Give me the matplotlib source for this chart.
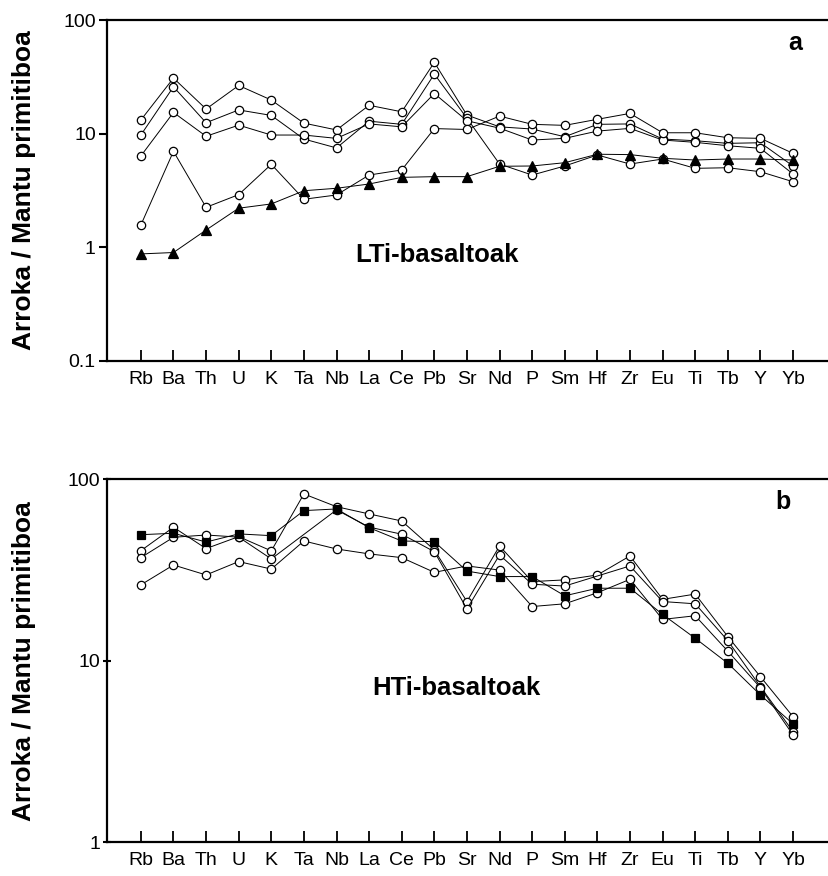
import matplotlib
matplotlib.use('Agg')
import matplotlib.pyplot as plt
from matplotlib.ticker import NullLocator
import numpy as np

plt.rcParams['font.family'] = ['Liberation Sans', 'DejaVu Sans']

# Elementuak (primitive mantle normalised)
elementuak = ['Rb', 'Ba', 'Th', 'U', 'K', 'Ta', 'Nb', 'La', 'Ce', 'Pb', 'Sr',
              'Nd', 'P', 'Sm', 'Hf', 'Zr', 'Eu', 'Ti', 'Tb', 'Y', 'Yb']

# (a) LTi-basaltoak
lti_1 = [13.2, 30.9, 16.5, 26.6, 19.8, 12.4, 10.8, 17.8, 15.6, 42.5, 14.6,
         11.5, 11.0, 9.41, 12.1, 12.2, 8.98, 8.68, 8.23, 8.33, 5.20]
lti_2 = [9.74, 25.9, 12.5, 16.2, 14.5, 8.98, 7.5, 12.9, 12.1, 33.5, 13.7,
         5.41, 4.33, 5.2, 6.5, 5.41, 5.99, 4.96, 5.02, 4.63, 3.78]
lti_3 = [6.37, 15.4, 9.5, 11.9, 9.74, 9.74, 9.1, 12.2, 11.5, 22.6, 13.0,
         11.2, 8.8, 9.11, 10.55, 11.15, 8.80, 8.40, 7.84, 7.44, 4.42]
lti_4 = [1.57, 7.0, 2.25, 2.91, 5.38, 2.65, 2.89, 4.33, 4.8, 11.1, 10.9,
         14.3, 12.1, 11.85, 13.4, 15.1, 10.2, 10.2, 9.22, 9.11, 6.72]
lti_tri = [0.875, 0.90, 1.42, 2.21, 2.41, 3.15, 3.31, 3.61, 4.13, 4.19, 4.19,
           5.17, 5.2, 5.56, 6.6, 6.55, 6.08, 5.87, 5.99, 5.99, 5.87]

# (b) HTi-basaltoak
hti_1 = [40.4, 54.4, 41.5, 48.3, 40.3, 83.0, 70.6, 64.4, 58.9, 40.8, 21.2,
         42.9, 27.3, 27.9, 29.7, 37.8, 21.8, 23.3, 13.6, 8.17, 4.92]
hti_2 = [37.0, 47.9, 49.3, 48.0, 36.4, np.nan, 67.8, 54.5, 49.8, 39.9, 19.3,
         38.3, 26.4, 25.8, np.nan, 33.3, 21.2, 20.6, 12.9, 7.2, 4.07]
hti_3 = [26.2, 33.7, 29.7, 35.2, 32.0, 45.7, 41.3, 38.8, 37.0, 30.7, 33.3,
         31.6, 19.9, 20.6, 23.7, 28.1, 16.9, 17.7, 11.3, 7.11, 3.90]
hti_sq = [49.5, 50.4, 45.1, 50.0, 48.9, 67.2, 68.6, 54.1, 45.7, 45.3, 31.2,
          29.1, 29.1, 22.8, 25.1, 25.1, 18.0, 13.3, 9.69, 6.48, 4.49]

x = np.arange(len(elementuak))


def marraztu(ax, balioak, marker, fc, ms):
    v = np.array(balioak, dtype=float)
    m = ~np.isnan(v)
    ax.plot(x[m], v[m], color='black', lw=0.7, marker=marker, ms=ms,
            mfc=fc, mec='black', mew=0.9, zorder=3)


def ardatza(ax, ymin, ymax, yticks, ylabels, ydir):
    ax.set_yscale('log')
    ax.set_ylim(ymin, ymax)
    ax.set_xlim(-1.04, 21.23)
    ax.set_yticks(yticks)
    ax.set_yticklabels(ylabels)
    ax.yaxis.set_minor_locator(NullLocator())
    ax.set_xticks(x)
    ax.set_xticklabels(elementuak)
    ax.tick_params(axis='x', direction='in', length=8, width=1.3,
                   labelsize=14, pad=7)
    ax.tick_params(axis='y', direction=ydir, length=6, width=1.5,
                   labelsize=14, pad=2)
    for s in ['left', 'bottom', 'top']:
        ax.spines[s].set_linewidth(1.6)
    ax.spines['right'].set_visible(False)
    ax.set_ylabel('Arroka / Mantu primitiboa', fontsize=19, fontweight='bold')
    ax.yaxis.set_label_coords(-0.098, 0.5)


fig = plt.figure(figsize=(8.29, 8.76), dpi=100)
ax1 = fig.add_axes([0.129, 0.588, 0.876, 0.389])
ax2 = fig.add_axes([0.129, 0.0385, 0.876, 0.4144])

# goiko panela
for serie in [lti_1, lti_2, lti_3, lti_4]:
    marraztu(ax1, serie, 'o', 'white', 6)
marraztu(ax1, lti_tri, '^', 'black', 6.5)
ardatza(ax1, 0.1, 100, [0.1, 1, 10, 100], ['0.1', '1', '10', '100'], 'out')
ax1.text(0.948, 0.933, 'a', transform=ax1.transAxes, fontsize=18,
         fontweight='bold', ha='center', va='center')
ax1.text(0.4545, 0.311, 'LTi-basaltoak', transform=ax1.transAxes, fontsize=18.5,
         fontweight='bold', ha='center', va='center')

# beheko panela
for serie in [hti_1, hti_2, hti_3]:
    marraztu(ax2, serie, 'o', 'white', 6)
marraztu(ax2, hti_sq, 's', 'black', 5.5)
ardatza(ax2, 1, 100, [1, 10, 100], ['1', '10', '100'], 'inout')
ax2.text(0.931, 0.938, 'b', transform=ax2.transAxes, fontsize=18,
         fontweight='bold', ha='center', va='center')
ax2.text(0.481, 0.425, 'HTi-basaltoak', transform=ax2.transAxes, fontsize=18.5,
         fontweight='bold', ha='center', va='center')

fig.savefig('out.png', dpi=100)
plt.close()
